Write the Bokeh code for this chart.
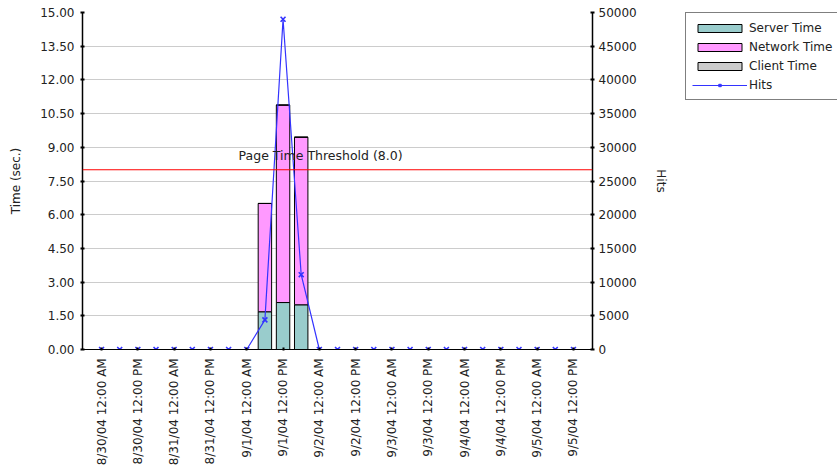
import math
from bokeh.plotting import figure
from bokeh.layouts import row
from bokeh.models import (ColumnDataSource, Range1d, LinearAxis, FixedTicker,
                          NumeralTickFormatter, Span, Label, Legend, LegendItem)
from bokeh.embed import file_html
from bokeh.resources import INLINE

# ---- data (27 samples, every 6 hours from 8/30/04 12:00 AM) ----
times = [
    "8/30/04 12:00 AM", "8/30/04 6:00 AM", "8/30/04 12:00 PM", "8/30/04 6:00 PM",
    "8/31/04 12:00 AM", "8/31/04 6:00 AM", "8/31/04 12:00 PM", "8/31/04 6:00 PM",
    "9/1/04 12:00 AM", "9/1/04 6:00 AM", "9/1/04 12:00 PM", "9/1/04 6:00 PM",
    "9/2/04 12:00 AM", "9/2/04 6:00 AM", "9/2/04 12:00 PM", "9/2/04 6:00 PM",
    "9/3/04 12:00 AM", "9/3/04 6:00 AM", "9/3/04 12:00 PM", "9/3/04 6:00 PM",
    "9/4/04 12:00 AM", "9/4/04 6:00 AM", "9/4/04 12:00 PM", "9/4/04 6:00 PM",
    "9/5/04 12:00 AM", "9/5/04 6:00 AM", "9/5/04 12:00 PM",
]
server_time = [0, 0, 0, 0, 0, 0, 0, 0, 0, 1.68, 2.09, 1.99, 0, 0,
               0, 0, 0, 0, 0, 0, 0, 0, 0, 0, 0, 0, 0]
network_time = [0, 0, 0, 0, 0, 0, 0, 0, 0, 4.82, 8.79, 7.46, 0, 0,
                0, 0, 0, 0, 0, 0, 0, 0, 0, 0, 0, 0, 0]
client_time = [0, 0, 0, 0, 0, 0, 0, 0, 0, 0, 0, 0, 0, 0,
               0, 0, 0, 0, 0, 0, 0, 0, 0, 0, 0, 0, 0]
hits = [0, 0, 0, 0, 0, 0, 0, 0, 0, 4400, 49000, 11100, 0, 0,
        0, 0, 0, 0, 0, 0, 0, 0, 0, 0, 0, 0, 0]
tick_labels = [
    "8/30/04  12:00 AM", "8/30/04  12:00 PM", "8/31/04  12:00 AM", "8/31/04  12:00 PM",
    "9/1/04  12:00 AM", "9/1/04  12:00 PM", "9/2/04  12:00 AM", "9/2/04  12:00 PM",
    "9/3/04  12:00 AM", "9/3/04  12:00 PM", "9/4/04  12:00 AM", "9/4/04  12:00 PM",
    "9/5/04  12:00 AM", "9/5/04  12:00 PM",
]
series_names = ["Server Time", "Network Time", "Client Time", "Hits"]
threshold = 8.0
time_ticks = [0, 1.5, 3, 4.5, 6, 7.5, 9, 10.5, 12, 13.5, 15]
hits_ticks = [0, 5000, 10000, 15000, 20000, 25000, 30000, 35000, 40000, 45000, 50000]

FONT = "DejaVu Sans"
TXT = "#222222"
BAR_COLORS = ["#99cccc", "#ff99ff", "#cccccc"]
HIT_COLOR = "#3333ff"

idx = list(range(len(times)))
tick_idx = idx[::2]

bar_rows = [i for i in idx if server_time[i] + network_time[i] + client_time[i] > 0]
bar_src = ColumnDataSource(dict(
    x=[idx[i] for i in bar_rows],
    server=[server_time[i] for i in bar_rows],
    network=[network_time[i] for i in bar_rows],
    client=[client_time[i] for i in bar_rows],
))
hit_src = ColumnDataSource(dict(x=idx, hits=hits))

p = figure(frame_width=510, frame_height=337, output_backend="svg", toolbar_location=None,
           title=None,
           x_range=Range1d(-1.05, len(times) - 1 + 1.05), y_range=Range1d(0, 15),
           min_border_left=82, min_border_right=93, min_border_top=12,
           min_border_bottom=120)
p.outline_line_color = None
p.background_fill_color = "white"
p.border_fill_color = "white"
p.xgrid.visible = False
p.ygrid.grid_line_color = "#cccccc"
p.ygrid.ticker = FixedTicker(ticks=time_ticks)

# left axis
ya = p.left[0]
ya.ticker = FixedTicker(ticks=time_ticks)
ya.formatter = NumeralTickFormatter(format="0.00")
ya.axis_label = "Time (sec.)"
ya.axis_label_text_font = FONT
ya.axis_label_text_font_size = "12px"
ya.axis_label_text_font_style = "normal"
ya.axis_label_text_color = TXT
ya.axis_label_standoff = 14
ya.major_label_text_font = FONT
ya.major_label_text_font_size = "12px"
ya.major_label_text_color = TXT
ya.major_label_standoff = 6
ya.major_tick_in = 2
ya.major_tick_out = 2
ya.major_tick_line_width = 2
ya.minor_tick_line_color = None
ya.axis_line_color = "black"
ya.axis_line_width = 1.5

# bottom axis
xa = p.below[0]
xa.ticker = FixedTicker(ticks=tick_idx)
xa.major_label_overrides = {i: lbl for i, lbl in zip(tick_idx, tick_labels)}
xa.major_label_orientation = math.pi / 2
xa.major_label_text_font = FONT
xa.major_label_text_font_size = "12px"
xa.major_label_text_color = TXT
xa.major_label_standoff = 4
xa.major_tick_in = 2
xa.major_tick_out = 1
xa.major_tick_line_width = 2
xa.minor_tick_line_color = None
xa.axis_line_color = "black"

# right axis (hits)
p.extra_y_ranges = {"hits": Range1d(0, 50000)}
ra = LinearAxis(y_range_name="hits", ticker=FixedTicker(ticks=hits_ticks),
                formatter=NumeralTickFormatter(format="0"), axis_label="Hits")
ra.axis_label_text_font = FONT
ra.axis_label_text_font_size = "12px"
ra.axis_label_text_font_style = "normal"
ra.axis_label_text_color = TXT
ra.axis_label_standoff = 14
ra.major_label_text_font = FONT
ra.major_label_text_font_size = "12px"
ra.major_label_text_color = TXT
ra.major_label_standoff = 4
ra.major_tick_in = 2
ra.major_tick_out = 2
ra.major_tick_line_width = 2
ra.minor_tick_line_color = None
ra.axis_line_color = "black"
ra.axis_line_width = 1.5
p.add_layout(ra, "right")

# stacked bars
p.vbar_stack(["server", "network", "client"], x="x", width=0.74, source=bar_src,
             color=BAR_COLORS, line_color="black", line_width=1)

# threshold
p.add_layout(Span(location=threshold, dimension="width", line_color="#ff0000", line_width=1.2))
p.add_layout(Label(x=12.07, y=threshold, y_offset=7, text=f"Page Time Threshold ({threshold})",
                   text_align="center", text_baseline="bottom", text_font=FONT,
                   text_font_size="12.5px", text_color=TXT))

# hits line
p.line("x", "hits", source=hit_src, y_range_name="hits", line_color=HIT_COLOR, line_width=1.2)
p.scatter("x", "hits", source=hit_src, y_range_name="hits", marker="x", size=7,
          line_color=HIT_COLOR, line_width=1.6)

# ---- legend panel: same series and styles, view range set away from the data ----
pl = figure(width=152, height=469, output_backend="svg", toolbar_location=None,
            title=None, x_range=Range1d(-1000, -999), y_range=Range1d(0, 1),
            x_axis_location=None, y_axis_location=None,
            min_border=0, min_border_left=0, min_border_right=0,
            min_border_top=0, min_border_bottom=0)
pl.outline_line_color = None
pl.border_fill_color = "white"
pl.background_fill_color = "white"
pl.xgrid.visible = False
pl.ygrid.visible = False
lbars = pl.vbar_stack(["server", "network", "client"], x="x", width=0.74, source=bar_src,
                      color=BAR_COLORS, line_color="black", line_width=1)
lr = pl.line("x", "hits", source=hit_src, line_color=HIT_COLOR, line_width=1.2)
sr = pl.scatter("x", "hits", source=hit_src, marker="x", line_color=HIT_COLOR, line_width=1.6)
leg_items = [LegendItem(label=n, renderers=[r]) for n, r in zip(series_names[:3], lbars)]
leg_items.append(LegendItem(label=series_names[3], renderers=[lr, sr]))

legend = Legend(items=leg_items, location="top_left", padding=6, spacing=2, margin=0,
                glyph_width=55, glyph_height=10, label_height=17, label_standoff=2,
                label_text_font=FONT, label_text_font_size="12px", label_text_color=TXT,
                border_line_color="black", border_line_width=1,
                background_fill_color="white", background_fill_alpha=1)
pl.add_layout(legend)

layout = row(p, pl)
open("out.html", "w").write(file_html(layout, INLINE))
